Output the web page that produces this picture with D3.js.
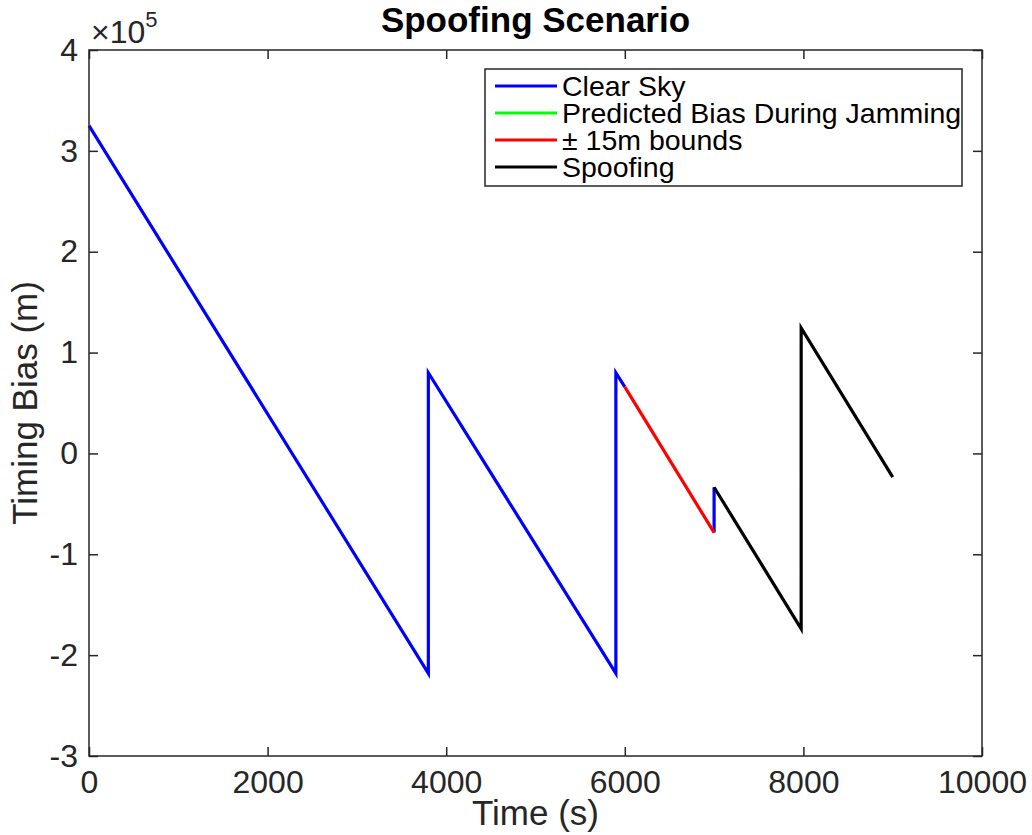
<!DOCTYPE html>
<html>
<head>
<meta charset="utf-8">
<script src="https://cdn.jsdelivr.net/npm/d3@7/dist/d3.min.js"></script>
<style>
html,body{margin:0;padding:0;background:#fff;}
svg{display:block;font-family:"Liberation Sans",Arial,Helvetica,sans-serif;}
</style>
</head>
<body>
<svg id="chart" width="1032" height="835"></svg>
<script>
// ---- data ----
const xTicks = [0, 2000, 4000, 6000, 8000, 10000];
const yTicks = [-3e5, -2e5, -1e5, 0, 1e5, 2e5, 3e5, 4e5];
const clearSkyTime = [0, 3800, 3800, 5900, 5900, 6000, null, 7000, 7000];
const clearSkyBias = [3.25e5, -2.18e5, 0.80e5, -2.18e5, 0.80e5, 0.66e5, null, -0.785e5, -0.335e5];
const jammingTime = [];
const jammingBias = [];
const boundsTime = [6000, 7000];
const boundsBias = [0.66e5, -0.785e5];
const spoofTime = [7000, 7975, 7975, 9000];
const spoofBias = [-0.335e5, -1.74e5, 1.245e5, -0.235e5];
const legendLabels = ["Clear Sky", "Predicted Bias During Jamming", "\u00B1 15m bounds", "Spoofing"];
const seriesColors = ["#0000ff", "#00ff00", "#ff0000", "#000000"];

// ---- layout ----
const L = 89, R = 982, T = 50, B = 756;
const axisColor = "#262626";
const svg = d3.select("#chart");
const x = d3.scaleLinear().domain([0, 10000]).range([L, R]);
const y = d3.scaleLinear().domain([-3e5, 4e5]).range([B, T]);

function zip(xs, ys){ return xs.map((v,i)=>[v, ys[i]]); }
const line = d3.line()
  .defined(d => d[0] !== null && d[1] !== null)
  .x(d => x(d[0])).y(d => y(d[1]));

const series = [
  {t: clearSkyTime, v: clearSkyBias, c: seriesColors[0]},
  {t: jammingTime, v: jammingBias, c: seriesColors[1]},
  {t: boundsTime, v: boundsBias, c: seriesColors[2]},
  {t: spoofTime, v: spoofBias, c: seriesColors[3]}
];
svg.append("g").selectAll("path").data(series).join("path")
  .attr("d", d => line(zip(d.t, d.v)))
  .attr("fill", "none")
  .attr("stroke", d => d.c)
  .attr("stroke-width", 3.2)
  .attr("stroke-linejoin", "miter");

// ---- axes ----
const fontTick = 32;
function styleAxis(g){
  g.select(".domain").remove();
  g.selectAll(".tick line").attr("stroke", axisColor).attr("stroke-width", 1.5);
  g.selectAll(".tick text").attr("fill", axisColor).attr("font-size", fontTick)
   .attr("font-family", '"Liberation Sans",Arial,Helvetica,sans-serif');
}
const gx = svg.append("g").attr("transform", `translate(0,${B})`)
  .call(d3.axisBottom(x).tickValues(xTicks).tickSizeInner(-9).tickSizeOuter(0).tickPadding(14).tickFormat(d3.format("d")));
styleAxis(gx);
gx.selectAll(".tick text").attr("dy", "0.71em");
const gxt = svg.append("g").attr("transform", `translate(0,${T})`)
  .call(d3.axisTop(x).tickValues(xTicks).tickSizeInner(-9).tickSizeOuter(0).tickFormat(""));
styleAxis(gxt);
const gy = svg.append("g").attr("transform", `translate(${L},0)`)
  .call(d3.axisLeft(y).tickValues(yTicks).tickSizeInner(-9).tickSizeOuter(0).tickPadding(11).tickFormat(d => String(d / 1e5).replace("\u2212","-")));
styleAxis(gy);
const gyr = svg.append("g").attr("transform", `translate(${R},0)`)
  .call(d3.axisRight(y).tickValues(yTicks).tickSizeInner(-9).tickSizeOuter(0).tickFormat(""));
styleAxis(gyr);

// box
svg.append("rect").attr("x", L).attr("y", T).attr("width", R - L).attr("height", B - T)
  .attr("fill", "none").attr("stroke", axisColor).attr("stroke-width", 1.5);

// exponent
const ex = svg.append("text").attr("x", 91).attr("y", 43).attr("fill", axisColor).attr("font-size", 32);
ex.append("tspan").text("\u00D710");
ex.append("tspan").attr("font-size", 22).attr("dy", -16).text("5");

// axis labels
svg.append("text").attr("x", (L + R) / 2).attr("y", 825).attr("text-anchor", "middle")
  .attr("font-size", 35).attr("fill", axisColor).text("Time (s)");
svg.append("text").attr("transform", `translate(37,${(T + B) / 2}) rotate(-90)`)
  .attr("text-anchor", "middle").attr("font-size", 35).attr("fill", axisColor).text("Timing Bias (m)");

// title
svg.append("text").attr("x", (L + R) / 2).attr("y", 32).attr("text-anchor", "middle")
  .attr("font-size", 35).attr("font-weight", "bold").attr("fill", "#000").text("Spoofing Scenario");

// legend
const lg = svg.append("g");
lg.append("rect").attr("x", 485).attr("y", 69).attr("width", 477).attr("height", 117)
  .attr("fill", "#fff").attr("stroke", axisColor).attr("stroke-width", 1.5);
legendLabels.forEach((lab, i) => {
  const cy = 86 + i * 27;
  lg.append("line").attr("x1", 495).attr("x2", 557).attr("y1", cy).attr("y2", cy)
    .attr("stroke", seriesColors[i]).attr("stroke-width", 3.2);
  lg.append("text").attr("x", 562).attr("y", cy + 9.5).attr("font-size", 28.5).attr("fill", "#000").text(lab);
});
</script>
</body>
</html>
